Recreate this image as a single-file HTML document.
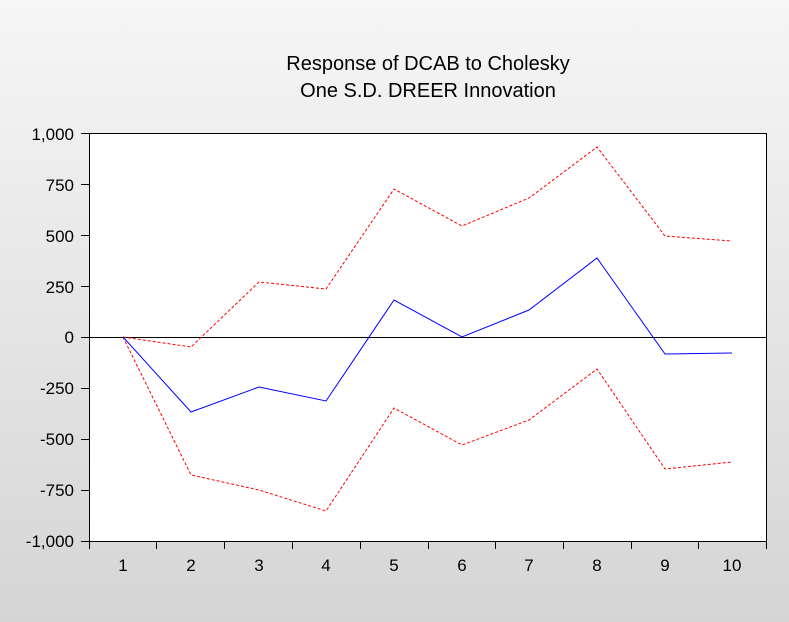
<!DOCTYPE html>
<html><head><style>
html,body{margin:0;padding:0;}
body{width:789px;height:622px;background:linear-gradient(#f6f6f6,#d5d5d5);font-family:"Liberation Sans",Arial,sans-serif;}
</style></head><body>
<svg width="789" height="622" xmlns="http://www.w3.org/2000/svg" style="position:absolute;left:0;top:0">
<text x="428" y="70" font-size="20" text-anchor="middle" fill="#000">Response of DCAB to Cholesky</text>
<text x="428" y="97" font-size="20" text-anchor="middle" fill="#000">One S.D. DREER Innovation</text>
<rect x="89.5" y="133.5" width="677" height="408" fill="#fff" stroke="#000" stroke-width="1"/>
<line x1="89" y1="337.5" x2="767" y2="337.5" stroke="#000" stroke-width="1"/>
<g stroke="#000" stroke-width="1">
<line x1="81" y1="133.5" x2="89" y2="133.5"/><line x1="81" y1="184.5" x2="89" y2="184.5"/>
<line x1="81" y1="235.5" x2="89" y2="235.5"/><line x1="81" y1="286.5" x2="89" y2="286.5"/>
<line x1="81" y1="337.5" x2="89" y2="337.5"/><line x1="81" y1="388.5" x2="89" y2="388.5"/>
<line x1="81" y1="439.5" x2="89" y2="439.5"/><line x1="81" y1="490.5" x2="89" y2="490.5"/>
<line x1="81" y1="541.5" x2="89" y2="541.5"/>
<line x1="89.5" y1="541" x2="89.5" y2="549"/><line x1="156.5" y1="541" x2="156.5" y2="549"/>
<line x1="224.5" y1="541" x2="224.5" y2="549"/><line x1="292.5" y1="541" x2="292.5" y2="549"/>
<line x1="360.5" y1="541" x2="360.5" y2="549"/><line x1="428.5" y1="541" x2="428.5" y2="549"/>
<line x1="495.5" y1="541" x2="495.5" y2="549"/><line x1="563.5" y1="541" x2="563.5" y2="549"/>
<line x1="631.5" y1="541" x2="631.5" y2="549"/><line x1="698.5" y1="541" x2="698.5" y2="549"/>
<line x1="766.5" y1="541" x2="766.5" y2="549"/>
</g>
<g font-size="17" text-anchor="end" fill="#000">
<text x="74" y="140">1,000</text><text x="74" y="191">750</text><text x="74" y="242">500</text>
<text x="74" y="293">250</text><text x="74" y="343">0</text><text x="74" y="394">-250</text>
<text x="74" y="445">-500</text><text x="74" y="496">-750</text><text x="74" y="547">-1,000</text>
</g>
<g font-size="17" text-anchor="middle" fill="#000">
<text x="123" y="571">1</text><text x="191" y="571">2</text><text x="259" y="571">3</text>
<text x="326" y="571">4</text><text x="394" y="571">5</text><text x="462" y="571">6</text>
<text x="529" y="571">7</text><text x="597" y="571">8</text><text x="665" y="571">9</text>
<text x="732" y="571">10</text>
</g>
<polyline fill="none" stroke="#ff0000" stroke-width="1" stroke-dasharray="3,2" points="123,337 191,347 259,282 326,289 394,189 462,226 529,198 597,147 665,236 732,241"/>
<polyline fill="none" stroke="#ff0000" stroke-width="1" stroke-dasharray="3,2" points="123,337 191,475 259,490 326,511 394,408 462,445 529,420 597,369 665,469 732,462"/>
<polyline fill="none" stroke="#0000ff" stroke-width="1" points="123,337 191,412 259,387 326,401 394,300 462,337 529,310 597,258 665,354 732,353"/>
</svg>
</body></html>
